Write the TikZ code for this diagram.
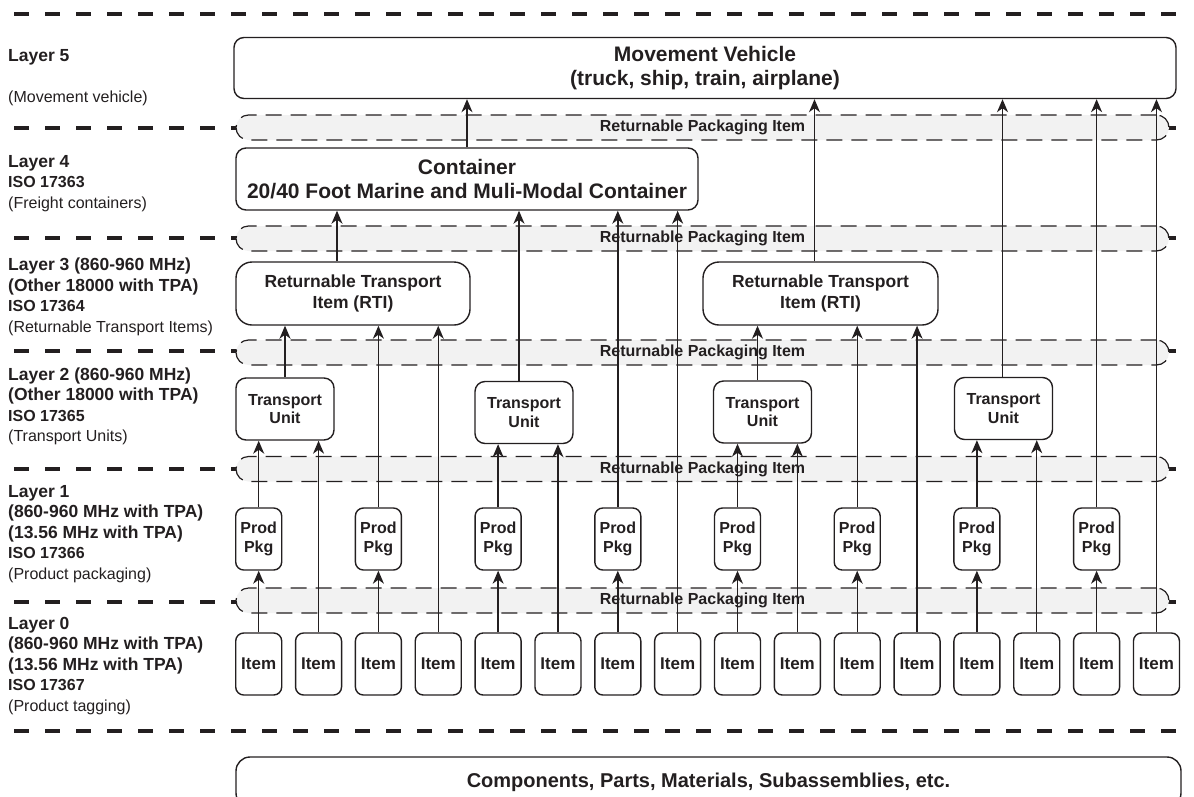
\documentclass[tikz,border=0pt]{standalone}
\usepackage{fontspec}
\setmainfont{Liberation Sans}
\usetikzlibrary{arrows.meta}
\definecolor{ink}{RGB}{35,31,32}
\definecolor{bandgray}{RGB}{242,242,242}
\newcommand{\layhead}[1]{{\fontsize{17.5}{20.5}\selectfont\bfseries #1}}
\newcommand{\isoline}[1]{{\bfseries #1}}

\begin{document}
\begin{tikzpicture}[
    x=1pt, y=-1pt,
    box/.style={draw=ink, line width=1.4pt, rounded corners=10pt, text=ink, align=center, inner sep=0pt},
    itembox/.style={box, rounded corners=8pt, minimum width=46pt, minimum height=62pt, font=\fontsize{17}{20}\selectfont\bfseries},
    pkgbox/.style={box, rounded corners=8pt, minimum width=46pt, minimum height=62pt, font=\fontsize{16}{19}\selectfont\bfseries},
    unitbox/.style={box, minimum width=98pt, minimum height=62pt, font=\fontsize{16}{18.5}\selectfont\bfseries},
    rtibox/.style={box, rounded corners=16pt, minimum height=63pt, font=\fontsize{17.5}{21}\selectfont\bfseries},
    bigbox/.style={box, font=\fontsize{21}{24}\selectfont\bfseries},
    band/.style={draw=ink, line width=1.2pt, dash pattern=on 16pt off 9pt, fill=bandgray, rounded corners=12.5pt, minimum width=933pt, minimum height=25pt, inner sep=0pt, text=ink, font=\fontsize{16}{18}\selectfont\bfseries},
    layersep/.style={draw=ink, line width=4pt, dash pattern=on 15pt off 16pt},
    lbl/.style={align=left, inner sep=0pt, anchor=west, text=ink, font=\fontsize{16}{20.5}\selectfont},
    arrow/.style={-{Stealth[length=13pt,width=11pt,inset=4pt]}, line width=1.4pt, draw=ink}
]
\useasboundingbox (0,0) rectangle (1194,796);

% layer separators
\foreach \y in {14,128,238,351,469,602,731}
    \draw[layersep] (14,\y) -- (1180,\y);

% returnable packaging bands
\node[band] (rpi5) at (702.5,127.5) {Returnable Packaging Item};
\node[band] (rpi4) at (702.5,238.5) {Returnable Packaging Item};
\node[band] (rpi3) at (702.5,352.5) {Returnable Packaging Item};
\node[band] (rpi2) at (702.5,469) {Returnable Packaging Item};
\node[band] (rpi1) at (702.5,600.5) {Returnable Packaging Item};

% layer labels
\node[lbl] (lay5) at (8,78) {\layhead{Layer 5}\\ ~\\ (Movement vehicle)};
\node[lbl] (lay4) at (8,183.5) {\layhead{Layer 4}\\ \isoline{ISO 17363}\\ (Freight containers)};
\node[lbl] (lay3) at (8,297) {\layhead{Layer 3 (860-960 MHz)}\\ \layhead{(Other 18000 with TPA)}\\ \isoline{ISO 17364}\\ (Returnable Transport Items)};
\node[lbl] (lay2) at (8,406.5) {\layhead{Layer 2 (860-960 MHz)}\\ \layhead{(Other 18000 with TPA)}\\ \isoline{ISO 17365}\\ (Transport Units)};
\node[lbl] (lay1) at (8,534) {\layhead{Layer 1}\\ \layhead{(860-960 MHz with TPA)}\\ \layhead{(13.56 MHz with TPA)}\\ \isoline{ISO 17366}\\ (Product packaging)};
\node[lbl] (lay0) at (8,666) {\layhead{Layer 0}\\ \layhead{(860-960 MHz with TPA)}\\ \layhead{(13.56 MHz with TPA)}\\ \isoline{ISO 17367}\\ (Product tagging)};

% boxes
\node[bigbox, minimum width=942pt, minimum height=61pt] (veh) at (705,68) {Movement Vehicle\\(truck, ship, train, airplane)};
\node[bigbox, minimum width=462pt, minimum height=62pt] (con) at (467,179) {Container\\20/40 Foot Marine and Muli-Modal Container};
\node[rtibox, minimum width=234pt] (rti1) at (353,293.5) {Returnable Transport\\Item (RTI)};
\node[rtibox, minimum width=235pt] (rti2) at (820.5,293.5) {Returnable Transport\\Item (RTI)};
\node[unitbox] (tu1) at (285,409) {Transport\\Unit};
\node[unitbox] (tu2) at (524,412.5) {Transport\\Unit};
\node[unitbox] (tu3) at (762.5,412) {Transport\\Unit};
\node[unitbox] (tu4) at (1003.5,408.5) {Transport\\Unit};
\foreach \k in {1,...,8}
    \node[pkgbox] (pp\k) at ({258.7+59.85*(2*\k-2)},539) {Prod\\Pkg};
\foreach \i in {1,...,16}
    \node[itembox] (item\i) at ({258.7+59.85*(\i-1)},664) {Item};
\node[box, rounded corners=14pt, minimum width=945pt, minimum height=50pt, font=\fontsize{20}{23}\selectfont\bfseries] (parts) at (708.5,782) {\raisebox{3pt}{Components, Parts, Materials, Subassemblies, etc.}};

% connectors
\foreach \k [evaluate=\k as \j using int(2*\k-1)] in {1,...,8}
    \draw[arrow] (item\j.north) -- (pp\k.south);
\foreach \src/\dst/\dx in {pp1/tu1/0, item2/tu1/0, tu1/rti1/0, pp2/rti1/0, item4/rti1/0, rti1/con/-16,
    pp3/tu2/0, item6/tu2/0, tu2/con/-5, pp4/con/0, item8/con/0, con/veh/0,
    pp5/tu3/0, item10/tu3/0, tu3/rti2/-5, pp6/rti2/0, item12/rti2/0, rti2/veh/-6,
    pp7/tu4/0, item14/tu4/0, tu4/veh/-1, pp8/veh/0, item16/veh/0}
    \draw[arrow] ([xshift=\dx pt]\src.north) -- ([xshift=\dx pt]\src.north |- \dst.south);

\end{tikzpicture}
\end{document}
